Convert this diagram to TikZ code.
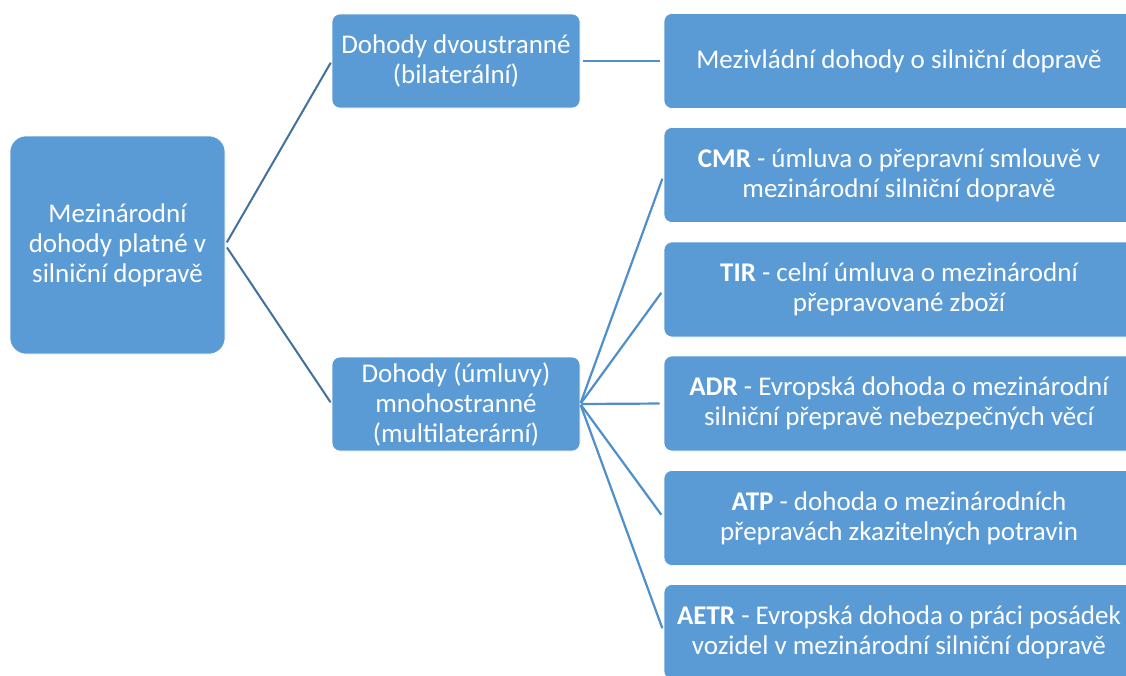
\documentclass[tikz,border=0pt]{standalone}
\usepackage{fontspec}
\setmainfont{Carlito}
\definecolor{boxblue}{HTML}{5B9BD5}
\definecolor{rootline}{HTML}{41719C}
\definecolor{fanline}{HTML}{4F8FCC}
\begin{document}
\begin{tikzpicture}[x=1pt,y=-1pt,
  box/.style={rectangle, fill=boxblue, draw=white, line width=0.6pt,
    text=white, align=center, inner sep=0pt,
    font=\fontsize{27}{30}\selectfont},
  rootbox/.style={box, rounded corners=16pt, minimum width=215pt, minimum height=218pt},
  midbox/.style={box, rounded corners=8pt, minimum width=248pt, minimum height=94pt},
  leafbox/.style={box, rounded corners=8pt, minimum width=470pt, minimum height=95pt},
  rootedge/.style={draw=rootline, line width=2pt},
  fanedge/.style={draw=fanline, line width=2.2pt}]
\useasboundingbox (0,0) rectangle (1126,675);
\clip (0,0) rectangle (1126,675);
\fill[white] (0,0) rectangle (1126,675);

% root of the tree
\node[rootbox] (root) at (117.5,245) {Mezinárodní\\dohody platné v\\silniční dopravě};

% second level
\node[midbox] (bi) at (456,61) {Dohody dvoustranné\\(bilaterální)};
\node[midbox] (multi) at (456,404) {Dohody (úmluvy)\\mnohostranné\\(multilaterární)};

% leaves
\node[leafbox] (mez) at (899,61) {Mezivládní dohody o silniční dopravě};
\node[leafbox] (cmr) at (899,175) {\textbf{CMR} - úmluva o přepravní smlouvě v\\mezinárodní silniční dopravě};
\node[leafbox] (tir) at (899,289.5) {\textbf{TIR} - celní úmluva o mezinárodní\\přepravované zboží};
\node[leafbox] (adr) at (899,403.5) {\textbf{ADR} - Evropská dohoda o mezinárodní\\silniční přepravě nebezpečných věcí};
\node[leafbox] (atp) at (899,518) {\textbf{ATP} - dohoda o mezinárodních\\přepravách zkazitelných potravin};
\node[leafbox] (aetr) at (899,632) {\textbf{AETR} - Evropská dohoda o práci posádek\\vozidel v mezinárodní silniční dopravě};

% connectors
\draw[rootedge, shorten <=3pt, shorten >=2pt] (root.east) -- (bi.west);
\draw[rootedge, shorten <=3pt, shorten >=2pt] (root.east) -- (multi.west);
\draw[fanedge, shorten <=3pt, shorten >=4pt] (bi.east) -- (mez.west);
\foreach \leaf in {cmr,tir,adr,atp,aetr}
  \draw[fanedge, shorten <=1pt, shorten >=4pt] (multi.east) -- (\leaf.west);
\end{tikzpicture}
\end{document}
